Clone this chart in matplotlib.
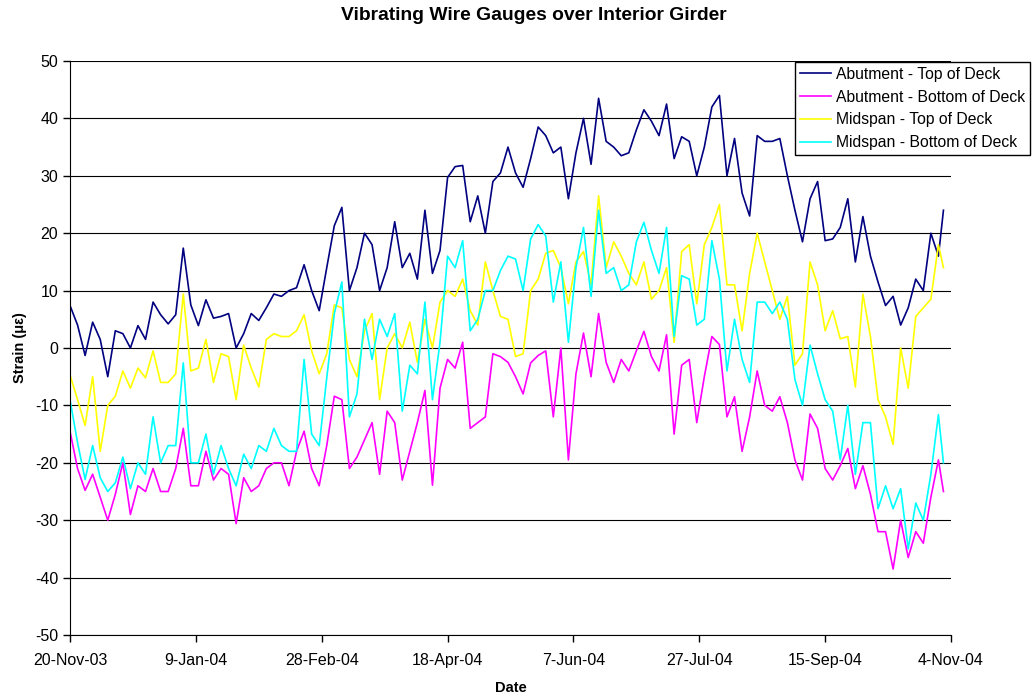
import numpy as np
import matplotlib
matplotlib.use("Agg")
import matplotlib.pyplot as plt
import matplotlib.dates as mdates

# strain readings every 3 days from 20-Nov-03 (last reading a day early)
start = np.datetime64("2003-11-20")
days = list(range(0, 346, 3)) + [347]

abut_top = [7.4, 4, -1.3, 4.5, 1.5, -5, 3, 2.5, 0, 3.9,
            1.5, 8, 5.8, 4.2, 5.8, 17.4, 7.5, 3.9, 8.4, 5.2,
            5.5, 6, 0, 2.5, 6, 4.8, 7, 9.4, 9, 10,
            10.5, 14.5, 10, 6.5, 14, 21.3, 24.5, 10, 14, 20,
            18, 10, 14, 22, 14, 16.5, 12, 24, 13, 17,
            29.7, 31.6, 31.8, 22, 26.5, 20, 29, 30.5, 35, 30.5,
            28, 33, 38.5, 37, 34, 35, 26, 34, 40, 32,
            43.5, 36, 35, 33.5, 34, 38, 41.5, 39.5, 37, 42.5,
            33, 36.8, 36, 30, 35, 42, 44, 30, 36.5, 27,
            23, 37, 36, 36, 36.5, 30, 24, 18.5, 26, 29,
            18.7, 19, 21, 26, 15, 22.9, 16, 11.5, 7.4, 9,
            4, 7, 12, 10, 20, 16, 24]

abut_bot = [-14.5, -21, -24.8, -22, -26, -30, -25.5, -20, -29, -24,
            -25, -21, -25, -25, -21, -14, -24, -24, -18, -23,
            -21, -22, -30.6, -22.6, -25, -24, -21, -20, -20, -24,
            -18, -14.5, -21, -24, -17, -8.4, -9, -21, -19, -16,
            -13, -22, -11, -13, -23, -18, -13, -7.4, -23.9, -7,
            -2, -3.5, 1, -14, -13, -12, -1, -1.5, -2.5, -5,
            -8, -2.6, -1.3, -0.5, -12, 0, -19.5, -4.5, 2.6, -5,
            6, -2.5, -6, -2, -4, -0.5, 2.9, -1.5, -4, 2.3,
            -15, -3, -2, -13, -5, 2, 0.6, -12, -8.5, -18,
            -12, -4, -10, -11, -8.5, -13, -19.5, -23, -11.5, -14,
            -21, -23, -20.5, -17.5, -24.5, -20.5, -25.5, -32, -32, -38.5,
            -30, -36.5, -32, -34, -26, -19.5, -25]

mid_top = [-4.7, -9, -13.5, -5, -18, -10, -8.4, -4, -7, -3.5,
           -5.2, -0.5, -6, -6, -4.5, 9.4, -4, -3.5, 1.5, -6,
           -1, -1.5, -9, 0.5, -3.5, -6.8, 1.5, 2.5, 2, 2,
           3, 5.8, -0.5, -4.5, -1, 7.5, 7, -2, -5, 3,
           6, -9, 0, 2.5, 0, 4.5, -2.5, 5, 0, 8,
           10, 9, 12, 6.5, 4, 15, 10, 5.5, 5, -1.5,
           -1, 10, 12, 16.5, 17, 14, 7.7, 15, 16.8, 11,
           26.5, 14, 18.5, 16, 13, 11, 15, 8.5, 10, 14,
           1, 16.8, 18, 7.7, 18, 21, 25, 11, 11, 3,
           13, 20, 15, 10, 5, 9, -3, -1, 15, 11,
           3, 6.5, 1.6, 2, -6.8, 9.4, 2, -9, -12, -16.8,
           0, -7, 5.5, 7, 8.5, 18, 14]

mid_bot = [-9, -16.5, -22.9, -17, -22.6, -25, -23.5, -19, -24.5, -20,
           -22, -12, -20, -17, -17, -2.6, -20, -20, -15, -22,
           -17, -21, -24, -18.5, -21, -17, -18, -14, -17, -18,
           -18, -2, -15, -17, -5.2, 6, 11.5, -12, -8, 5,
           -2, 5, 2, 6, -11, -3, -4.5, 8, -9, 1,
           16, 14, 18.7, 3, 5, 10, 10, 13.5, 16, 15.5,
           10, 19, 21.5, 19.5, 8, 15, 1, 14, 21, 9,
           24, 13, 14, 10, 11, 18.5, 21.9, 17, 13, 21,
           2, 12.6, 12, 4, 5, 18.7, 12, -4, 5, -2,
           -6, 8, 8, 6, 8, 5, -5.5, -10, 0.5, -4.5,
           -9, -11, -19.5, -10, -22, -13, -13, -28, -24, -28,
           -24.5, -35, -27, -30, -22, -11.6, -20]

series = [
    ("Abutment - Top of Deck", abut_top, "#000080"),
    ("Abutment - Bottom of Deck", abut_bot, "#FF00FF"),
    ("Midspan - Top of Deck", mid_top, "#FFFF00"),
    ("Midspan - Bottom of Deck", mid_bot, "#00FFFF"),
]

plt.rcParams["font.family"] = ["Liberation Sans", "DejaVu Sans"]
plt.rcParams["axes.unicode_minus"] = False

dates = start + np.array(days, dtype="timedelta64[D]")

fig = plt.figure(figsize=(10.34, 6.98), dpi=100)
ax = fig.add_axes([70 / 1034, 1 - 635 / 698, 881 / 1034, 574 / 698])

for name, vals, col in series:
    ax.plot(dates, vals, color=col, lw=1.2, label=name)

ax.set_ylim(-50, 50)
ax.set_yticks(range(-50, 51, 10))
ax.set_xlim(start, start + np.timedelta64(350, "D"))
ax.set_xticks(start + np.arange(0, 351, 50).astype("timedelta64[D]"))
ax.xaxis.set_major_formatter(mdates.DateFormatter("%-d-%b-%y"))

ax.grid(axis="y", color="black", lw=0.8)
ax.set_axisbelow(True)
ax.spines["top"].set_visible(False)
ax.spines["right"].set_visible(False)
ax.tick_params(direction="out", length=5, labelsize=11.5, width=1)
ax.tick_params(axis="x", pad=8)

ax.set_xlabel("Date", fontsize=10.5, fontweight="bold", labelpad=9)
ax.set_ylabel("Strain (\u03bc\u03b5)", fontsize=10.5, fontweight="bold", labelpad=6)
# title sits centred over the whole chart area, legend included
fig.suptitle("Vibrating Wire Gauges over Interior Girder", fontsize=13.9,
             fontweight="bold", x=534 / 1034, y=0.99)

leg = fig.legend(loc="upper right", bbox_to_anchor=(1030 / 1034, 1 - 62 / 698),
                 fontsize=11.3, frameon=True, fancybox=False, framealpha=1,
                 edgecolor="black", handlelength=2.0, borderpad=0.3,
                 labelspacing=0.5, handletextpad=0.3, borderaxespad=0)
leg.get_frame().set_linewidth(1)

fig.savefig("out.png", dpi=100)
